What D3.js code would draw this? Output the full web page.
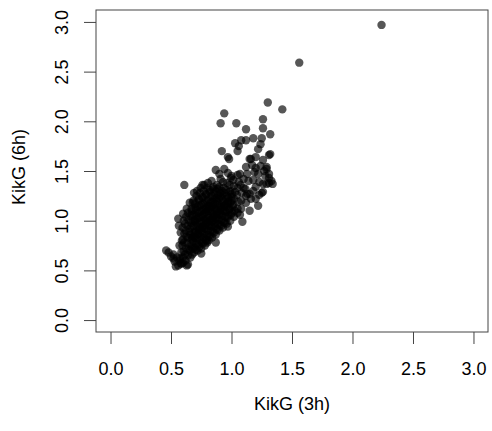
<!DOCTYPE html>
<html>
<head>
<meta charset="utf-8">
<script src="https://cdn.jsdelivr.net/npm/d3@7"></script>
<style>
  body { margin: 0; background: #fff; }
  text { font-family: "Liberation Sans", Arial, sans-serif; }
</style>
</head>
<body>
<script>
// KikG at 3h vs 6h
var tickVals = [0, 0.5, 1, 1.5, 2, 2.5, 3];
var xLabel = 'KikG (3h)';
var yLabel = 'KikG (6h)';

var kik3h = [
  // outliers and edge points
  2.24, 1.56, 1.30, 1.42, 0.94, 0.91, 1.04, 1.26, 1.12, 1.26, 1.32, 1.18, 1.25, 1.12, 1.08, 1.03,
  1.06, 1.24, 1.22, 1.05, 0.92, 0.98, 1.32, 1.16, 1.17, 1.20, 1.24, 1.27, 1.29, 1.19, 1.22, 1.28,
  1.31, 1.33, 0.87, 0.94, 0.90, 0.97, 1.00, 1.05, 1.10, 1.14, 1.31, 1.26, 1.13, 1.22, 1.18, 1.20,
  1.10, 1.25, 1.16, 1.12, 1.09, 1.05, 1.08, 0.61, 0.60, 0.56, 0.46, 0.50, 0.52, 0.54, 0.58, 0.63,
  0.64, 0.75, 0.80, 0.87, 0.97, 0.76, 0.68, 1.07, 1.15, 1.20, 1.23,
  1.15, 1.20, 1.26, 1.29, 1.31, 1.34, 1.29, 1.23, 1.18, 1.13, 1.12, 0.97, 1.31, 1.07, 1.15, 1.26,
  0.48, 0.52, 0.55, 0.57, 0.60, 0.53, 0.56, 0.59,
  // core
  0.575, 0.585, 0.57, 0.59, 0.58, 0.565,
  0.62, 0.615, 0.625, 0.61, 0.63, 0.62, 0.615, 0.625, 0.63,
  0.66, 0.655, 0.665, 0.67, 0.66, 0.655, 0.665, 0.66, 0.67, 0.655,
  0.69, 0.695, 0.685, 0.69, 0.70, 0.685, 0.695, 0.69, 0.70, 0.685, 0.69,
  0.72, 0.725, 0.715, 0.72, 0.73, 0.72, 0.715, 0.725, 0.72, 0.73, 0.715,
  0.75, 0.755, 0.745, 0.75, 0.76, 0.75, 0.745, 0.755, 0.75, 0.76, 0.745,
  0.78, 0.785, 0.775, 0.78, 0.79, 0.78, 0.775, 0.785, 0.78, 0.79, 0.775,
  0.81, 0.815, 0.805, 0.81, 0.82, 0.81, 0.805, 0.815, 0.81, 0.82, 0.805,
  0.84, 0.845, 0.835, 0.84, 0.85, 0.84, 0.835, 0.845, 0.84, 0.85, 0.835,
  0.87, 0.875, 0.865, 0.87, 0.88, 0.87, 0.865, 0.875, 0.87, 0.88,
  0.90, 0.905, 0.895, 0.90, 0.91, 0.90, 0.895, 0.905, 0.90, 0.91,
  0.93, 0.935, 0.925, 0.93, 0.94, 0.93, 0.925, 0.935, 0.93,
  0.96, 0.965, 0.955, 0.96, 0.97, 0.96, 0.955, 0.965,
  0.99, 0.995, 0.985, 0.99, 1.00, 0.99, 0.985, 0.995,
  1.02, 1.025, 1.015, 1.02, 1.03, 1.02, 1.015,
  1.05, 1.055, 1.045, 1.05, 1.06,
  1.08, 1.085, 1.075,
  1.12, 1.115,
  // core, second layer
  0.60, 0.605, 0.595, 0.60, 0.61, 0.595, 0.605,
  0.64, 0.645, 0.635, 0.64, 0.65, 0.635, 0.645, 0.64,
  0.675, 0.68, 0.67, 0.675, 0.685, 0.67, 0.68, 0.675, 0.67,
  0.705, 0.71, 0.70, 0.705, 0.715, 0.70, 0.71, 0.705, 0.70, 0.71,
  0.735, 0.74, 0.73, 0.735, 0.745, 0.73, 0.74, 0.735, 0.73, 0.74,
  0.765, 0.77, 0.76, 0.765, 0.775, 0.76, 0.77, 0.765, 0.76, 0.77,
  0.795, 0.80, 0.79, 0.795, 0.805, 0.79, 0.80, 0.795, 0.79, 0.80,
  0.825, 0.83, 0.82, 0.825, 0.835, 0.82, 0.83, 0.825, 0.82,
  0.855, 0.86, 0.85, 0.855, 0.865, 0.85, 0.86, 0.855, 0.85,
  0.885, 0.89, 0.88, 0.885, 0.895, 0.88, 0.89, 0.885,
  0.915, 0.92, 0.91, 0.915, 0.925, 0.91, 0.92,
  0.945, 0.95, 0.94, 0.945, 0.955, 0.94,
  0.975, 0.98, 0.97, 0.975, 0.985,
  1.005, 1.01, 1.00, 1.005
];
var kik6h = [
  // outliers and edge points
  2.97, 2.59, 2.19, 2.12, 2.08, 1.98, 1.98, 2.02, 1.92, 1.93, 1.87, 1.83, 1.83, 1.81, 1.81, 1.78,
  1.75, 1.77, 1.72, 1.70, 1.70, 1.62, 1.67, 1.62, 1.56, 1.53, 1.55, 1.50, 1.52, 1.49, 1.47, 1.45,
  1.43, 1.40, 1.51, 1.52, 1.47, 1.48, 1.45, 1.46, 1.42, 1.40, 1.38, 1.37, 1.27, 1.15, 1.30, 1.34,
  1.33, 1.28, 1.22, 1.18, 0.99, 1.08, 1.12, 1.36, 1.07, 1.02, 0.70, 0.64, 0.62, 0.54, 0.57, 0.55,
  0.56, 0.67, 0.78, 0.78, 0.94, 1.36, 1.18, 1.06, 1.10, 1.22, 1.26,
  1.62, 1.64, 1.61, 1.54, 1.47, 1.37, 1.37, 1.39, 1.41, 1.47, 1.54, 1.64, 1.66, 1.47, 1.27, 1.29,
  0.68, 0.66, 0.63, 0.60, 0.58, 0.59, 0.55, 0.57,
  // core
  0.62, 0.68, 0.75, 0.80, 0.88, 0.95,
  0.60, 0.66, 0.72, 0.78, 0.84, 0.90, 0.97, 1.04, 1.12,
  0.63, 0.70, 0.74, 0.81, 0.86, 0.92, 0.98, 1.05, 1.10, 1.18,
  0.68, 0.73, 0.79, 0.84, 0.89, 0.95, 1.00, 1.06, 1.13, 1.20, 1.28,
  0.70, 0.76, 0.82, 0.87, 0.91, 0.96, 1.02, 1.08, 1.14, 1.22, 1.30,
  0.72, 0.78, 0.84, 0.90, 0.94, 0.99, 1.04, 1.10, 1.16, 1.24, 1.33,
  0.75, 0.81, 0.86, 0.92, 0.97, 1.02, 1.07, 1.12, 1.18, 1.26, 1.36,
  0.80, 0.85, 0.90, 0.95, 1.00, 1.05, 1.10, 1.15, 1.21, 1.29, 1.38,
  0.83, 0.89, 0.94, 0.99, 1.04, 1.09, 1.14, 1.19, 1.25, 1.32, 1.40,
  0.86, 0.92, 0.97, 1.02, 1.07, 1.12, 1.17, 1.23, 1.30, 1.36,
  0.90, 0.96, 1.01, 1.06, 1.11, 1.16, 1.22, 1.28, 1.34, 1.42,
  0.93, 0.99, 1.05, 1.10, 1.15, 1.20, 1.26, 1.33, 1.39,
  0.97, 1.03, 1.09, 1.14, 1.19, 1.25, 1.31, 1.38,
  1.00, 1.06, 1.12, 1.18, 1.24, 1.30, 1.36, 1.43,
  1.04, 1.10, 1.16, 1.22, 1.29, 1.35, 1.41,
  1.12, 1.19, 1.26, 1.33, 1.39,
  1.20, 1.28, 1.36,
  1.25, 1.32,
  // core, second layer
  0.63, 0.69, 0.75, 0.81, 0.87, 0.93, 1.00,
  0.65, 0.71, 0.77, 0.83, 0.89, 0.95, 1.01, 1.08,
  0.66, 0.72, 0.77, 0.83, 0.88, 0.94, 1.00, 1.06, 1.12,
  0.71, 0.77, 0.83, 0.88, 0.94, 0.99, 1.05, 1.11, 1.17, 1.25,
  0.74, 0.80, 0.86, 0.92, 0.97, 1.03, 1.09, 1.15, 1.21, 1.28,
  0.77, 0.83, 0.88, 0.94, 1.00, 1.05, 1.11, 1.17, 1.23, 1.30,
  0.80, 0.86, 0.92, 0.98, 1.03, 1.09, 1.14, 1.20, 1.27, 1.33,
  0.84, 0.90, 0.96, 1.01, 1.07, 1.12, 1.18, 1.24, 1.31,
  0.88, 0.94, 1.00, 1.05, 1.11, 1.16, 1.22, 1.28, 1.34,
  0.91, 0.97, 1.03, 1.09, 1.14, 1.20, 1.26, 1.32,
  0.95, 1.01, 1.07, 1.13, 1.18, 1.24, 1.30,
  0.98, 1.04, 1.10, 1.16, 1.22, 1.28,
  1.05, 1.11, 1.17, 1.23, 1.29,
  1.08, 1.14, 1.20, 1.27
];

var width = 492;
var height = 431;
var box = { left: 96, right: 488, top: 10, bottom: 332 };

var svg = d3.select('body').append('svg')
  .attr('width', width)
  .attr('height', height)

// R pads the range by 4%
var x = d3.scaleLinear().domain([-0.12, 3.12]).range([box.left, box.right]);
var y = d3.scaleLinear().domain([-0.12, 3.12]).range([box.bottom, box.top]);

var pts = kik3h.map(function(d, i) { return { x: d, y: kik6h[i] }; });

svg.append('g').selectAll('circle')
  .data(pts)
  .enter().append('circle')
  .attr('cx', function(d) { return x(d.x) })
  .attr('cy', function(d) { return y(d.y) })
  .attr('r', 4.2)
  .attr('fill', '#000')
  .attr('fill-opacity', 0.66)

svg.append('rect')
  .attr('x', box.left)
  .attr('y', box.top)
  .attr('width', box.right - box.left)
  .attr('height', box.bottom - box.top)
  .attr('fill', 'none')
  .attr('stroke', '#444')

var fmt = d3.format('.1f');

var xAxis = svg.append('g')
  .attr('transform', 'translate(0,' + box.bottom + ')')
  .call(d3.axisBottom(x).tickValues(tickVals).tickFormat(fmt).tickSize(12).tickPadding(18).tickSizeOuter(0))
xAxis.select('.domain').remove();

var yAxis = svg.append('g')
  .attr('transform', 'translate(' + box.left + ',0)')
  .call(d3.axisLeft(y).tickValues(tickVals).tickFormat(fmt).tickSize(12).tickSizeOuter(0))
yAxis.select('.domain').remove();
yAxis.selectAll('.tick text')
  .attr('x', null).attr('dy', null)
  .attr('transform', 'translate(-28,0) rotate(-90)')
  .attr('text-anchor', 'middle')

svg.selectAll('.tick line').attr('stroke', '#444')
svg.selectAll('.tick text')
  .attr('font-size', 18)
  .attr('font-family', '"Liberation Sans", Arial, sans-serif')
  .attr('fill', '#000')

svg.append('text')
  .attr('x', (box.left + box.right) / 2)
  .attr('y', 410)
  .attr('text-anchor', 'middle')
  .attr('font-size', 18)
  .text(xLabel)

svg.append('text')
  .attr('transform', 'translate(25,' + 167 + ') rotate(-90)')
  .attr('text-anchor', 'middle')
  .attr('font-size', 18)
  .text(yLabel)
</script>
</body>
</html>
